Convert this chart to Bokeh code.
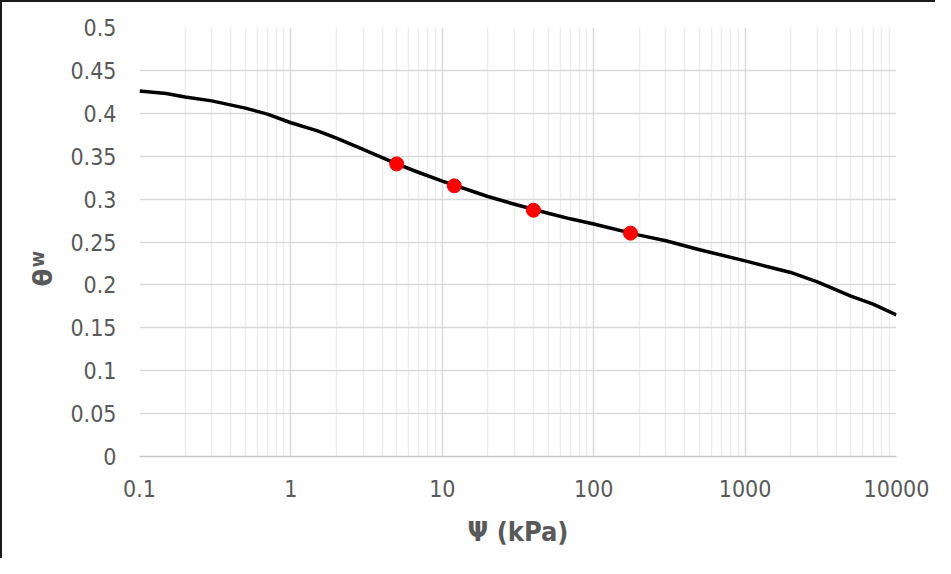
from bokeh.plotting import figure
from bokeh.models import FixedTicker, Title
from bokeh.embed import file_html
from bokeh.resources import INLINE

# ---- data ----
psi_curve = [0.1, 0.15, 0.2, 0.3, 0.5, 0.7, 1, 1.5, 2, 3, 5, 7, 10, 20, 30, 50, 70, 100, 200, 300,
             500, 1000, 1500, 2000, 3000, 5000, 7000, 10000]
theta_curve = [0.426, 0.423, 0.419, 0.4145, 0.406, 0.399, 0.389, 0.3796, 0.371, 0.358, 0.341, 0.331,
               0.321, 0.303, 0.294, 0.2835, 0.277, 0.271, 0.258, 0.2515, 0.241, 0.228, 0.220, 0.2145,
               0.2035, 0.187, 0.1775, 0.165]
psi_points = [5, 12, 40, 175]
theta_points = [0.341, 0.3155, 0.287, 0.2603]

x_ticks = [0.1, 1, 10, 100, 1000, 10000]
x_labels = ["0.1", "1", "10", "100", "1000", "10000"]
y_ticks = [0, 0.05, 0.1, 0.15, 0.2, 0.25, 0.3, 0.35, 0.4, 0.45, 0.5]
y_labels = ["0", "0.05", "0.1", "0.15", "0.2", "0.25", "0.3", "0.35", "0.4", "0.45", "0.5"]

FONT = "DejaVu Sans Condensed"
TXT = "#595959"

p = figure(width=935, height=558, x_axis_type="log", x_range=(0.1, 10000), y_range=(0, 0.5),
           output_backend="svg", toolbar_location=None,
           min_border_left=137, min_border_right=41, min_border_top=25, min_border_bottom=104)
p.styles = {"border-top": "2px solid #1a1a1a", "border-left": "2px solid #1a1a1a"}
p.outline_line_color = None
p.background_fill_color = "white"

minor = [d * 10 ** k for k in range(-1, 4) for d in range(2, 10)]
p.xaxis.ticker = FixedTicker(ticks=x_ticks, minor_ticks=minor)
p.xaxis.major_label_overrides = {t: s for t, s in zip(x_ticks, x_labels)}
p.yaxis.ticker = FixedTicker(ticks=y_ticks)
p.yaxis.major_label_overrides = {t: s for t, s in zip(y_ticks, y_labels)}

for ax in (p.xaxis, p.yaxis):
    ax.major_tick_line_color = None
    ax.minor_tick_line_color = None
    ax.major_label_text_font = FONT
    ax.major_label_text_font_size = "23px"
    ax.major_label_text_color = TXT
p.yaxis.axis_line_color = None
p.xaxis.axis_line_color = "#c8c8c8"
p.xaxis.axis_line_width = 1.5
p.yaxis.major_label_standoff = 17
p.xaxis.major_label_standoff = 17

p.xaxis.axis_label = "Ψ (kPa)"
p.xaxis.axis_label_text_font = FONT
p.xaxis.axis_label_text_font_style = "bold"
p.xaxis.axis_label_text_font_size = "27px"
p.xaxis.axis_label_text_color = TXT
p.xaxis.axis_label_standoff = 16

p.xgrid.ticker = p.xaxis.ticker
p.xgrid.grid_line_color = "#d9d9d9"
p.xgrid.grid_line_width = 1.5
p.xgrid.minor_grid_line_color = "#ececec"
p.xgrid.minor_grid_line_width = 1.5
p.ygrid.grid_line_color = "#d9d9d9"
p.ygrid.grid_line_width = 1.5

p.line(psi_curve, theta_curve, line_color="black", line_width=3.5, line_join="round")
p.scatter(psi_points, theta_points, size=14, fill_color="#ff0000", line_color="#ff0000")

# y-axis title: theta with subscript w, as vertical titles in the left panel
spacer = Title(text=" ", align="left", standoff=10, text_font=FONT, text_font_size="10px")
t_theta = Title(text="θ", align="left", offset=170, standoff=-27,
                text_font="DejaVu Sans", text_font_style="bold", text_font_size="26px", text_color=TXT)
t_w = Title(text="w", align="left", offset=189, standoff=-18,
            text_font=FONT, text_font_style="bold", text_font_size="20px", text_color=TXT)
p.add_layout(spacer, "left")
p.add_layout(t_theta, "left")
p.add_layout(t_w, "left")

open("out.html", "w").write(file_html(p, INLINE))
